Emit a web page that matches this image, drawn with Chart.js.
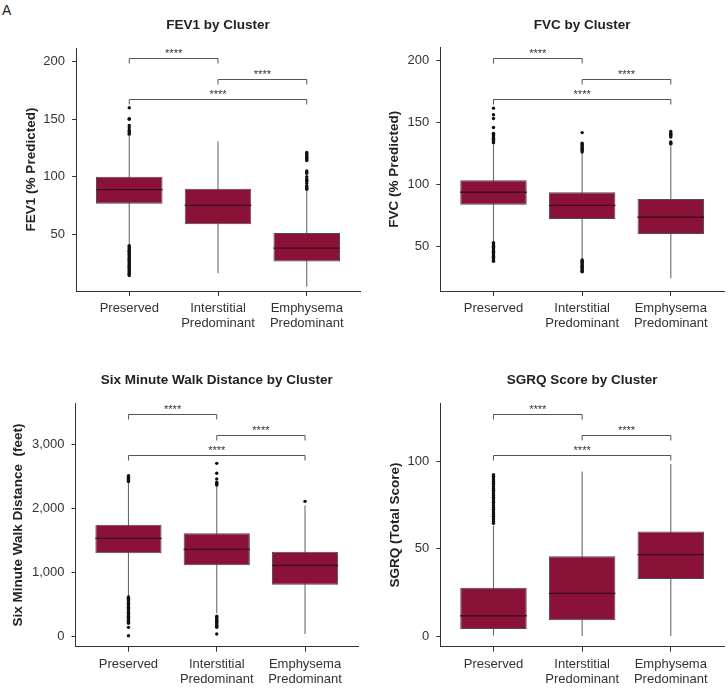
<!DOCTYPE html>
<html>
<head>
<meta charset="utf-8">
<script src="https://cdn.jsdelivr.net/npm/chart.js@4/dist/chart.umd.min.js"></script>
<style>
  body { margin: 0; background: #fff; }
  #page { position: relative; width: 728px; height: 688px; font-family: "Liberation Sans", Arial, sans-serif; }
  #page canvas { position: absolute; }
  #tag { position: absolute; left: 2px; top: 3px; font-size: 14px; line-height: 14px; color: #222; }
</style>
</head>
<body>
<div id="page">
  <div id="tag">A</div>
  <canvas id="fev1" width="364" height="344" style="left:0;top:0"></canvas>
  <canvas id="fvc" width="364" height="344" style="left:364px;top:0"></canvas>
  <canvas id="walk" width="364" height="344" style="left:0;top:344px"></canvas>
  <canvas id="sgrq" width="364" height="344" style="left:364px;top:344px"></canvas>
</div>
<script>
var clusterLabels = [["Preserved"], ["Interstitial", "Predominant"], ["Emphysema", "Predominant"]];

// FEV1 (% predicted)
var fev1Quartiles = [[76.4, 100.0], [58.7, 89.5], [26.1, 50.9]];
var fev1Medians = [88.7, 75.0, 37.8];
var fev1Whiskers = [[41.0, 136.0], [16.0, 130.8], [4.3, 88.0]];
var fev1Outliers = [
  [160, 150.5, 150, 144.5, 142.5, 140.5, 139, 138, 137, 40, 39, 38, 37, 36, 35, 34, 33, 32, 31, 30, 29, 28, 27, 26, 25, 24, 23, 22, 21, 20, 19, 18, 17, 16, 15, 14],
  [],
  [121, 120, 119, 118, 117, 116, 115, 114, 105, 104, 103, 100, 98, 97, 96, 94, 92, 91, 90, 89]
];
var fev1Brackets = [[1, 2, 203.5], [2, 3, 185.3], [1, 3, 167.8]];
var fev1Ticks = [50, 100, 150, 200];

// FVC (% predicted)
var fvcQuartiles = [[83.5, 103.2], [72.0, 93.5], [60.0, 88.1]];
var fvcMedians = [93.5, 83.0, 73.4];
var fvcWhiskers = [[54.0, 133.0], [40.0, 125.5], [24.2, 131.0]];
var fvcOutliers = [
  [161.3, 156, 153, 145.7, 141, 140, 139, 138, 137, 136, 135, 134, 133.5, 53, 52, 51, 50, 49, 48, 47, 46, 45, 44, 43, 42, 41, 40, 39, 38],
  [141.6, 133, 132, 131, 130, 129, 128, 127, 126, 39, 38, 37, 36, 35, 34, 33, 32, 31, 30, 29.5],
  [142.5, 141, 140, 139, 138, 134, 133, 132.5]
];
var fvcBrackets = [[1, 2, 201.6], [2, 3, 184.7], [1, 3, 168.5]];
var fvcTicks = [50, 100, 150, 200];

// Six minute walk distance (feet)
var walkQuartiles = [[1292, 1740], [1104, 1604], [802, 1318]];
var walkMedians = [1526, 1354, 1104];
var walkWhiskers = [[620, 2400], [354, 2350], [31, 2040]];
var walkOutliers = [
  [2505, 2490, 2475, 2460, 2445, 2430, 2415, 610, 590, 570, 550, 530, 510, 490, 470, 450, 430, 410, 390, 370, 350, 330, 310, 290, 270, 250, 230, 200, 135, 5],
  [2698, 2542, 2453, 2400, 2390, 2375, 2360, 310, 290, 270, 250, 230, 210, 190, 170, 150, 135, 31],
  [2104]
];
var walkBrackets = [[1, 2, 3469], [2, 3, 3146], [1, 3, 2823]];
var walkTicks = [0, 1000, 2000, 3000];

// SGRQ total score
var sgrqQuartiles = [[4.0, 27.7], [9.0, 45.6], [32.6, 59.9]];
var sgrqMedians = [11.6, 24.4, 46.6];
var sgrqWhiskers = [[0.2, 63.3], [0.0, 94.1], [0.0, 98.5]];
var sgrqOutliers = [
  [92.4, 91.5, 90.5, 89.5, 88.5, 87.5, 86.5, 85.5, 84.5, 83.5, 82.5, 81.5, 80.5, 79.5, 78.5, 77.5, 76.5, 75.5, 74.5, 73.5, 72.5, 71.5, 70.5, 69.5, 68.5, 67.5, 66.5, 65.5, 64.5],
  [],
  []
];
var sgrqBrackets = [[1, 2, 127.1], [2, 3, 115.3], [1, 3, 103.4]];
var sgrqTicks = [0, 50, 100];

var FONT = "'Liberation Sans', Arial, sans-serif";

// little plugin for whiskers, medians and the **** brackets
function boxPlugin(p) {
  return {
    id: "boxDecor",
    beforeDatasetsDraw: function (chart) {
      var ctx = chart.ctx, xs = chart.scales.x, ys = chart.scales.y;
      ctx.save();
      ctx.strokeStyle = "#6a6a6a";
      ctx.lineWidth = 1.1;
      p.whiskers.forEach(function (w, i) {
        var px = xs.getPixelForValue(i + 1);
        ctx.beginPath();
        ctx.moveTo(px, ys.getPixelForValue(w[0]));
        ctx.lineTo(px, ys.getPixelForValue(w[1]));
        ctx.stroke();
      });
      ctx.restore();
    },
    afterDatasetsDraw: function (chart) {
      var ctx = chart.ctx, ys = chart.scales.y;
      var bars = chart.getDatasetMeta(0).data;
      ctx.save();
      ctx.strokeStyle = "#3e0b1d";
      ctx.lineWidth = 1.4;
      p.medians.forEach(function (m, i) {
        var b = bars[i], py = ys.getPixelForValue(m);
        ctx.beginPath();
        ctx.moveTo(b.x - b.width / 2, py);
        ctx.lineTo(b.x + b.width / 2, py);
        ctx.stroke();
      });
      ctx.restore();
    },
    afterDraw: function (chart) {
      var ctx = chart.ctx, xs = chart.scales.x, ys = chart.scales.y;
      ctx.save();
      ctx.strokeStyle = "#555";
      ctx.lineWidth = 1;
      ctx.fillStyle = "#333";
      ctx.font = "11px " + FONT;
      ctx.textAlign = "center";
      ctx.textBaseline = "alphabetic";
      p.brackets.forEach(function (br) {
        var x1 = xs.getPixelForValue(br[0]), x2 = xs.getPixelForValue(br[1]);
        var py = Math.round(ys.getPixelForValue(br[2])) + 0.5;
        ctx.beginPath();
        ctx.moveTo(x1, py + 5);
        ctx.lineTo(x1, py);
        ctx.lineTo(x2, py);
        ctx.lineTo(x2, py + 5);
        ctx.stroke();
        ctx.fillText("****", (x1 + x2) / 2, py - 1.5);
      });
      ctx.restore();
    }
  };
}

function makePanel(p) {
  var outlierPoints = [];
  p.outliers.forEach(function (list, i) {
    list.forEach(function (v) { outlierPoints.push({ x: i + 1, y: v }); });
  });
  var ctx = document.getElementById(p.id).getContext("2d");
  return new Chart(ctx, {
    type: "bar",
    data: {
      datasets: [
        {
          type: "bar",
          data: p.quartiles.map(function (q, i) { return { x: i + 1, y: q }; }),
          backgroundColor: "#8a1238",
          borderColor: "#4d4d4d",
          borderWidth: 1,
          borderSkipped: false,
          categoryPercentage: 1,
          barPercentage: 0.75,
          order: 2
        },
        {
          type: "scatter",
          data: outlierPoints,
          pointRadius: 1.7,
          pointBackgroundColor: "#111",
          pointBorderWidth: 0,
          order: 1
        }
      ]
    },
    options: {
      responsive: false,
      animation: false,
      events: [],
      layout: { padding: { left: 0, right: 364 - p.area[1], top: 0, bottom: 0 } },
      plugins: {
        legend: { display: false },
        tooltip: { enabled: false },
        title: {
          display: true,
          text: p.title,
          fullSize: false,
          color: "#222",
          font: { family: FONT, size: 13.5, weight: "bold", lineHeight: 1.2 },
          padding: { top: p.titleY - 8.1, bottom: p.area[2] - p.titleY - 8.1 }
        }
      },
      scales: {
        x: {
          type: "linear",
          min: 0.4,
          max: 3.6,
          offset: false,
          afterBuildTicks: function (s) { s.ticks = [1, 2, 3].map(function (v) { return { value: v }; }); },
          afterFit: function (s) { s.height = 344 - p.area[3]; },
          grid: { display: true, offset: false, drawOnChartArea: false, drawTicks: true, tickLength: 5, color: "#333" },
          border: { display: true, color: "#333", width: 1 },
          ticks: {
            autoSkip: false,
            maxRotation: 0,
            padding: 4.8,
            color: "#333",
            font: { family: FONT, size: 13, lineHeight: 1.15 },
            callback: function (v) { return clusterLabels[v - 1]; }
          }
        },
        y: {
          type: "linear",
          min: p.range[0],
          max: p.range[1],
          afterBuildTicks: function (s) { s.ticks = p.ticks.map(function (v) { return { value: v }; }); },
          afterFit: function (s) { s.width = p.area[0]; },
          grid: { display: true, drawOnChartArea: false, drawTicks: true, tickLength: 4, color: "#333" },
          border: { display: true, color: "#333", width: 1 },
          ticks: {
            padding: 7,
            color: "#333",
            font: { family: FONT, size: 13 },
            callback: function (v) { return v.toLocaleString("en-US"); }
          },
          title: {
            display: true,
            text: p.yTitle,
            color: "#222",
            font: { family: FONT, size: 13.5, weight: "bold", lineHeight: 1.2 },
            padding: { top: p.yTitleX - 8.1, bottom: 0 }
          }
        }
      }
    },
    plugins: [boxPlugin(p)]
  });
}

// area = [left, right, top, bottom] of the plot box inside each 364x344 canvas
makePanel({
  id: "fev1", title: "FEV1 by Cluster", yTitle: "FEV1 (% Predicted)",
  quartiles: fev1Quartiles, medians: fev1Medians, whiskers: fev1Whiskers, outliers: fev1Outliers,
  brackets: fev1Brackets, ticks: fev1Ticks, range: [0.5, 212],
  area: [76, 362, 48, 291], titleY: 25, yTitleX: 30.8
});
makePanel({
  id: "fvc", title: "FVC by Cluster", yTitle: "FVC (% Predicted)",
  quartiles: fvcQuartiles, medians: fvcMedians, whiskers: fvcWhiskers, outliers: fvcOutliers,
  brackets: fvcBrackets, ticks: fvcTicks, range: [14, 210],
  area: [76.3, 363, 47.7, 291], titleY: 25, yTitleX: 30.7
});
makePanel({
  id: "walk", title: "Six Minute Walk Distance by Cluster", yTitle: "Six Minute Walk Distance  (feet)",
  quartiles: walkQuartiles, medians: walkMedians, whiskers: walkWhiskers, outliers: walkOutliers,
  brackets: walkBrackets, ticks: walkTicks, range: [-167, 3636],
  area: [75.5, 358, 59.3, 302.7], titleY: 36.7, yTitleX: 18.7
});
makePanel({
  id: "sgrq", title: "SGRQ Score by Cluster", yTitle: "SGRQ (Total Score)",
  quartiles: sgrqQuartiles, medians: sgrqMedians, whiskers: sgrqWhiskers, outliers: sgrqOutliers,
  brackets: sgrqBrackets, ticks: sgrqTicks, range: [-6.1, 133.2],
  area: [76.3, 363, 59.3, 302.7], titleY: 36.7, yTitleX: 31.7
});
</script>
</body>
</html>
